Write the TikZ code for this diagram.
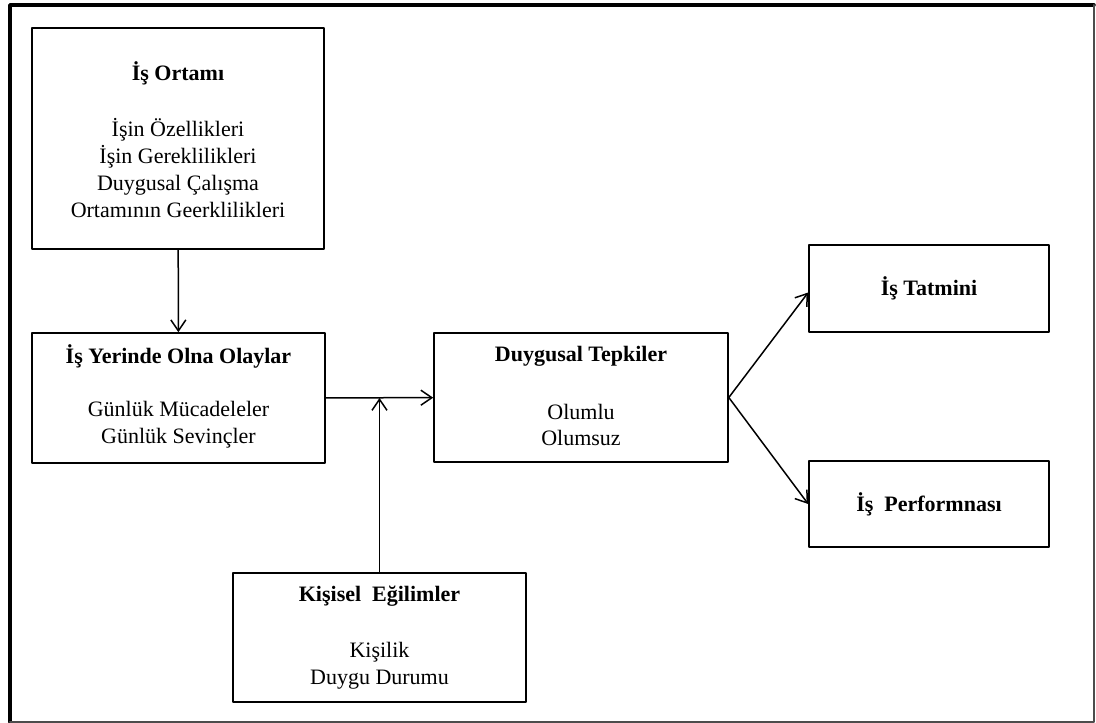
\documentclass[tikz,border=0pt]{standalone}
\usepackage{fontspec}
\setmainfont{Liberation Serif}
\usetikzlibrary{arrows.meta}
\begin{document}
\begin{tikzpicture}[line cap=round, line join=round, x=1pt, y=-1pt,
    kutu/.style={draw=black, line width=1.6pt, inner sep=0pt},
    yazi/.style={align=center, inner sep=0pt, font=\fontsize{22}{26.7}\selectfont},
    baslik/.style={yazi, font=\fontsize{22}{26.7}\selectfont\bfseries},
    ok/.style={line width=1.5pt, -{Straight Barb[length=11pt, width=15pt, line width=1.5pt]}}]
                \useasboundingbox (0, 0) rectangle (1096, 723);
                \draw[line width=3.5pt] (10, 722) -- (10, 5) -- (1094, 5);
                \draw[line width=2pt, black!70] (10, 722) -- (1094, 722) -- (1094, 5);
                % kutular
                \node[kutu, minimum width=292, minimum height=221] (ortam) at (178, 138.5) {};
                \node[kutu, minimum width=293, minimum height=130] (olay) at (178.5, 398) {};
                \node[kutu, minimum width=294, minimum height=129] (tepki) at (581, 397.5) {};
                \node[kutu, minimum width=293, minimum height=129] (egilim) at (379.5, 637.5) {};
                \node[kutu, minimum width=240, minimum height=87] (tatmin) at (929, 288.5) {};
                \node[kutu, minimum width=240, minimum height=86] (perf) at (929, 504) {};
                % yazilar
                \node[baslik] (ortam-b) at (178, 73) {İş Ortamı};
                \node[yazi] (ortam-l) at (178, 168) {İşin Özellikleri\\ İşin Gereklilikleri\\ Duygusal Çalışma\\ Ortamının Geerklilikleri};
                \node[baslik] (olay-b) at (178.5, 356) {İş Yerinde Olna Olaylar};
                \node[yazi] (olay-l) at (178.5, 425) {Günlük Mücadeleler\\ Günlük Sevinçler};
                \node[baslik] (tepki-b) at (581, 356) {Duygusal Tepkiler};
                \node[yazi] (tepki-l) at (581, 425) {Olumlu\\ Olumsuz};
                \node[baslik] (egilim-b) at (379.5, 596) {Kişisel~~Eğilimler};
                \node[yazi] (egilim-l) at (379.5, 666) {Kişilik\\ Duygu Durumu};
                \node[baslik] (tatmin-b) at (tatmin) {İş Tatmini};
                \node[baslik] (perf-b) at (perf) {İş~~Performnası};
                % oklar
                \draw[ok] (ortam) -- (olay);
                \draw[ok] (olay) -- (tepki);
                \draw[ok] (egilim) -- (egilim |- olay.east);
                \draw[ok] (tepki.east) -- ([yshift=-4pt]tatmin.west);
                \draw[ok] (tepki.east) -- (perf.west);
            \end{tikzpicture}
\end{document}
